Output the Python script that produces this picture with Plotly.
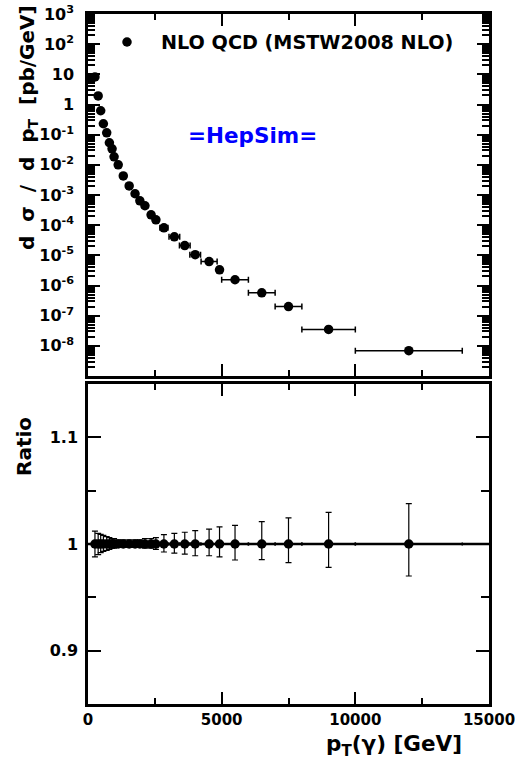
import plotly.graph_objects as go

# ---- data ----
pt = [260, 380, 475, 575, 700, 800, 900, 975, 1130, 1320, 1540, 1760, 1940, 2130,
      2360, 2540, 2840, 3230, 3620, 4010, 4530, 4920, 5500, 6500, 7500, 9000, 12000]
pt_halfwidth = [50, 50, 50, 50, 50, 50, 50, 50, 100, 100, 100, 100, 100, 100,
                100, 100, 150, 200, 200, 200, 300, 100, 500, 500, 500, 1000, 2000]
xsec = [8.2, 1.93, 0.62, 0.23, 0.115, 0.054, 0.034, 0.0184, 0.010, 4.3e-3, 2.0e-3,
        1.1e-3, 6.4e-4, 4.4e-4, 2.2e-4, 1.5e-4, 8.2e-5, 4.1e-5, 2.1e-5, 1.05e-5,
        6.2e-6, 3.3e-6, 1.55e-6, 5.7e-7, 2.0e-7, 3.5e-8, 6.9e-9]
ratio = [1.0] * len(pt)
ratio_err_up = [0.012, 0.010, 0.009, 0.008, 0.007, 0.006, 0.005, 0.005, 0.004, 0.004,
                0.004, 0.004, 0.004, 0.005, 0.005, 0.006, 0.0088, 0.010, 0.011, 0.0125,
                0.014, 0.016, 0.0175, 0.021, 0.0245, 0.0297, 0.0378]
ratio_err_down = [0.012, 0.010, 0.008, 0.007, 0.006, 0.005, 0.004, 0.004, 0.003, 0.003,
                  0.003, 0.003, 0.003, 0.004, 0.004, 0.005, 0.0075, 0.0085, 0.0094, 0.011,
                  0.011, 0.012, 0.015, 0.0147, 0.0175, 0.022, 0.030]

ytick_vals = [1e3, 1e2, 1e1, 1, 1e-1, 1e-2, 1e-3, 1e-4, 1e-5, 1e-6, 1e-7, 1e-8]
ytick_text = ["10<sup>3</sup>", "10<sup>2</sup>", "10", "1", "10<sup>-1</sup>",
              "10<sup>-2</sup>", "10<sup>-3</sup>", "10<sup>-4</sup>", "10<sup>-5</sup>",
              "10<sup>-6</sup>", "10<sup>-7</sup>", "10<sup>-8</sup>"]
xtick_vals = [0, 5000, 10000, 15000]
xtick_text = ["0", "5000", "10000", "15000"]
ratio_tick_vals = [0.9, 1.0, 1.1]
ratio_tick_text = ["0.9", "1", "1.1"]

legend_label = "NLO QCD (MSTW2008 NLO)"

FONT = "DejaVu Sans"
W, H = 515, 760
ML, MR, MT, MB = 88, 26, 14, 56
plot_h = H - MT - MB
top_bottom = (H - MB - 376) / plot_h
bot_top = (H - MB - 384) / plot_h

fig = go.Figure()

fig.add_trace(go.Scatter(
    x=pt, y=xsec, mode="markers", xaxis="x", yaxis="y",
    marker=dict(color="black", size=9.5),
    error_x=dict(type="data", array=pt_halfwidth, color="black", thickness=1.5, width=3),
    name=legend_label, showlegend=False,
))

fig.add_trace(go.Scatter(
    x=pt, y=ratio, mode="markers", xaxis="x2", yaxis="y2",
    marker=dict(color="black", size=9.5),
    error_x=dict(type="data", array=pt_halfwidth, color="black", thickness=1.5, width=1.5),
    error_y=dict(type="data", symmetric=False, array=ratio_err_up,
                 arrayminus=ratio_err_down, color="black", thickness=1.2, width=3),
    showlegend=False,
))

axis_common = dict(
    showline=True, linecolor="black", linewidth=2.5, mirror="ticks",
    ticks="inside", tickcolor="black", tickwidth=2, showgrid=False, zeroline=False,
    automargin=False, ticklabeloverflow="allow",
    tickfont=dict(family=FONT, size=16, color="black", weight="bold"),
)

fig.update_layout(
    width=W, height=H,
    margin=dict(l=ML, r=MR, t=MT, b=MB),
    paper_bgcolor="white", plot_bgcolor="white",
    xaxis=dict(**axis_common, domain=[0, 1], range=[0, 15000], anchor="y",
               tickvals=xtick_vals, ticktext=xtick_text, showticklabels=False, ticklen=12,
               minor=dict(ticks="inside", ticklen=6, tickcolor="black", tickwidth=2,
                          dtick=2500)),
    yaxis=dict(**axis_common, domain=[top_bottom, 1], type="log", range=[-9, 3],
               anchor="x", tickvals=ytick_vals, ticktext=ytick_text, ticklen=12,
               ticklabelstandoff=8,
               minor=dict(ticks="inside", ticklen=7, tickcolor="black", tickwidth=1.5,
                          dtick="D1")),
    xaxis2=dict(**axis_common, domain=[0, 1], range=[0, 15000], anchor="y2",
                tickvals=xtick_vals, ticktext=xtick_text, ticklen=12, ticklabelstandoff=0,
                minor=dict(ticks="inside", ticklen=6, tickcolor="black", tickwidth=2,
                           dtick=2500)),
    yaxis2=dict(**axis_common, domain=[0, bot_top], range=[0.85, 1.15], anchor="x2",
                tickvals=ratio_tick_vals, ticktext=ratio_tick_text, ticklen=13,
                ticklabelstandoff=4,
                minor=dict(ticks="inside", ticklen=8, tickcolor="black", tickwidth=2,
                           dtick=0.05)),
)
fig.update_layout(xaxis2_tickfont=dict(family=FONT, size=15, color="black", weight="bold"))

# horizontal line at ratio = 1
fig.add_shape(type="line", xref="x2 domain", yref="y2", x0=0, x1=1, y0=1, y1=1,
              line=dict(color="black", width=2.5))


def px_x(p):
    return (p - ML) / (W - ML - MR)


def px_y(p):
    return (H - MB - p) / plot_h


# legend marker (pixel-sized circle) + text
fig.add_shape(type="circle", xref="paper", yref="paper",
              xsizemode="pixel", ysizemode="pixel",
              xanchor=px_x(127), yanchor=px_y(42),
              x0=-4.75, x1=4.75, y0=-4.75, y1=4.75,
              fillcolor="black", line=dict(color="black", width=0))

fig.add_annotation(text=legend_label, xref="paper", yref="paper",
                   x=px_x(159), y=px_y(42), xanchor="left", yanchor="middle",
                   showarrow=False,
                   font=dict(family=FONT, size=19.2, color="black", weight="bold"))

fig.add_annotation(text="=HepSim=", xref="paper", yref="paper",
                   x=px_x(252), y=px_y(135), xanchor="center", yanchor="middle",
                   showarrow=False,
                   font=dict(family=FONT, size=21.5, color="blue", weight="bold"))

sp = "\u00a0\u00a0"
fig.add_annotation(text=f"d{sp}σ{sp}/{sp}d{sp}p<sub>T</sub>{sp}[pb/GeV]",
                   xref="paper", yref="paper", x=px_x(28), y=px_y(128),
                   xanchor="center", yanchor="middle", textangle=-90, showarrow=False,
                   font=dict(family=FONT, size=20, color="black", weight="bold"))

fig.add_annotation(text="Ratio", xref="paper", yref="paper",
                   x=px_x(24), y=px_y(447), xanchor="center", yanchor="middle",
                   textangle=-90, showarrow=False,
                   font=dict(family=FONT, size=20, color="black", weight="bold"))

fig.add_annotation(text="p<sub>T</sub>(γ)\u00a0[GeV]", xref="paper", yref="paper",
                   x=px_x(464), y=px_y(745), xanchor="right", yanchor="middle",
                   showarrow=False,
                   font=dict(family=FONT, size=21.5, color="black", weight="bold"))

fig.write_html(
    "out.html",
    config={"displayModeBar": False},
    post_script="document.body.style.margin='0';document.body.style.padding='0';",
)
